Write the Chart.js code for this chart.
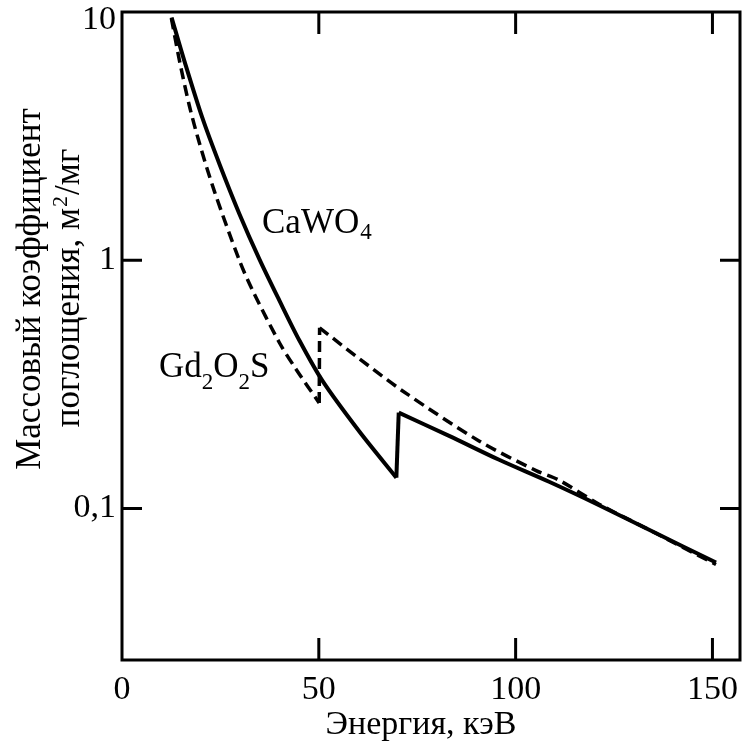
<!DOCTYPE html>
<html>
<head>
<meta charset="utf-8">
<script src="https://cdn.jsdelivr.net/npm/chart.js@4/dist/chart.umd.min.js"></script>
<style>
  html,body{margin:0;padding:0;background:#fff;}
  #wrap{width:746px;height:746px;}
</style>
</head>
<body>
<div id="wrap"><canvas id="chart" width="746" height="746"></canvas></div>
<script>
// данные (кэВ, м2/мг)
const energyCaWO4 = [12.6, 15.9, 20.4, 24.8, 29.8, 34.9, 40.0, 45.0, 50.9, 60.3, 69.7, 70.3, 83.1, 95.8, 108.5, 121.2, 133.9, 150.9];
const muCaWO4     = [9.50, 6.31, 3.75, 2.43, 1.54, 1.01, 0.687, 0.477, 0.327, 0.204, 0.133, 0.243, 0.196, 0.157, 0.128, 0.103, 0.082, 0.0605];
const edgeCaWO4 = 10;   // K-край W: индекс точки перед скачком

const energyGd2O2S = [12.55, 14.6, 17.1, 19.7, 23.5, 29.8, 33.1, 40.0, 44.3, 50.1, 50.2, 60.3, 71.2, 90.7, 105.2, 111.0, 121.2, 133.9, 150.9];
const muGd2O2S     = [9.42, 6.37, 4.20, 2.95, 1.89, 1.00, 0.760, 0.465, 0.362, 0.266, 0.534, 0.401, 0.298, 0.187, 0.142, 0.130, 0.104, 0.082, 0.0594];
const edgeGd2O2S = 9;   // K-край Gd

const xTicks = [0, 50, 100, 150];
const yTicks = [0.1, 1, 10];
const yTickLabels = ["0,1", "1", "10"];

const xTitle = "Энергия, кэВ";
const yTitle1 = "Массовый коэффициент";
const yTitle2 = ["поглощения, м", "2", "/мг"];

const FONT = "'Liberation Serif', 'Times New Roman', serif";

const toPts = (xs, ys) => xs.map((x, i) => ({x, y: ys[i]}));

// кривая режется на 3 куска: до края, сам скачок, после края (чтобы скачок был острым)
function split(xs, ys, edge, style){
  const pts = toPts(xs, ys);
  return [
    {...style, data: pts.slice(0, edge + 1), tension: 0.3},
    {...style, data: pts.slice(edge, edge + 2), tension: 0},
    {...style, data: pts.slice(edge + 1), tension: 0.3},
  ];
}

// рамка, внутренние засечки, подписи
const decor = {
  id: "decor",
  afterDatasetsDraw(chart){
    const {ctx, chartArea:{left, right, top, bottom}, scales:{x, y}} = chart;
    ctx.save();
    ctx.strokeStyle = "#000";
    ctx.lineWidth = 3;
    ctx.strokeRect(left, top, right - left, bottom - top);
    ctx.beginPath();
    xTicks.forEach(v => {
      if (v === 0) return;
      const px = x.getPixelForValue(v);
      ctx.moveTo(px, bottom); ctx.lineTo(px, bottom - 22);
      ctx.moveTo(px, top);    ctx.lineTo(px, top + 22);
    });
    yTicks.forEach(v => {
      if (v === 10) return;
      const py = y.getPixelForValue(v);
      ctx.moveTo(left, py);  ctx.lineTo(left + 20, py);
      ctx.moveTo(right, py); ctx.lineTo(right - 20, py);
    });
    ctx.stroke();

    ctx.fillStyle = "#000";

    // верхняя метка "10" у самого края — чуть ниже засечки, как в оригинале
    ctx.font = `34px ${FONT}`;
    ctx.textAlign = "right";
    ctx.textBaseline = "middle";
    ctx.fillText(yTickLabels[2], left - 6, y.getPixelForValue(10) + 8);

    ctx.textBaseline = "alphabetic";

    // x title
    ctx.font = `34px ${FONT}`;
    ctx.textAlign = "center";
    ctx.fillText(xTitle, (left + right) / 2 - 10, 734);

    // y title, два ряда
    ctx.save();
    ctx.translate(0, 289);
    ctx.rotate(-Math.PI / 2);
    ctx.textAlign = "center";
    ctx.font = `35px ${FONT}`;
    ctx.fillText(yTitle1, 0, 40);
    const w1 = ctx.measureText(yTitle2[0]).width;
    ctx.font = `22px ${FONT}`;
    const w2 = ctx.measureText(yTitle2[1]).width;
    ctx.font = `35px ${FONT}`;
    const w3 = ctx.measureText(yTitle2[2]).width;
    let sx = -(w1 + w2 + w3) / 2;
    ctx.textAlign = "left";
    ctx.fillText(yTitle2[0], sx, 79); sx += w1;
    ctx.font = `22px ${FONT}`;
    ctx.fillText(yTitle2[1], sx + 1, 67); sx += w2 + 2;
    ctx.font = `35px ${FONT}`;
    ctx.fillText(yTitle2[2], sx, 79);
    ctx.restore();

    // подписи кривых
    ctx.textAlign = "left";
    const part = (txt, px, py, size) => {
      ctx.font = `${size}px ${FONT}`;
      ctx.fillText(txt, px, py);
      return px + ctx.measureText(txt).width;
    };
    let cx = 262;
    cx = part("CaWO", cx, 233, 35);
    part("4", cx + 1, 239, 23);

    let gx = 159;
    gx = part("Gd", gx, 377, 35);
    gx = part("2", gx, 389, 23);
    gx = part("O", gx, 377, 35);
    gx = part("2", gx, 389, 23);
    part("S", gx, 377, 35);
    ctx.restore();
  }
};

const solid  = {borderColor: "#000", borderWidth: 4, pointRadius: 0, fill: false};
const dashed = {borderColor: "#000", borderWidth: 3.5, borderDash: [11, 6], pointRadius: 0, fill: false};

new Chart(document.getElementById("chart").getContext("2d"), {
  type: "line",
  data: {
    datasets: [
      ...split(energyCaWO4, muCaWO4, edgeCaWO4, solid),
      ...split(energyGd2O2S, muGd2O2S, edgeGd2O2S, dashed)
    ]
  },
  options: {
    responsive: false,
    animation: false,
    devicePixelRatio: 1,
    layout: {padding: {top: 12, right: 6, left: 0, bottom: 0}},
    plugins: {legend: {display: false}, tooltip: {enabled: false}},
    scales: {
      x: {
        type: "linear", min: 0, max: 157,
        afterBuildTicks: s => { s.ticks = xTicks.map(v => ({value: v})); },
        afterFit: s => { s.height = 86; s.paddingLeft = 0; s.paddingRight = 0; },
        grid: {display: false, drawTicks: false},
        border: {display: false},
        ticks: {color: "#000", font: {family: FONT, size: 34}, padding: 10, maxRotation: 0, autoSkip: false}
      },
      y: {
        type: "logarithmic", min: 0.0245, max: 10,
        afterBuildTicks: s => { s.ticks = yTicks.map(v => ({value: v})); },
        afterFit: s => { s.width = 122; s.paddingTop = 0; s.paddingBottom = 0; },
        grid: {display: false, drawTicks: false},
        border: {display: false},
        // "10" рисуется в плагине
        ticks: {color: "#000", font: {family: FONT, size: 34}, padding: 6,
                callback: v => (v === 10 ? "" : (yTickLabels[yTicks.indexOf(v)] ?? ""))}
      }
    }
  },
  plugins: [decor]
});
</script>
</body>
</html>
